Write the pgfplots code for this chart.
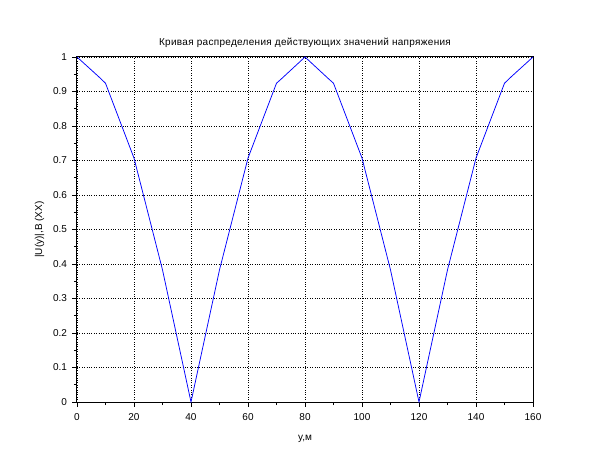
\documentclass[border=0pt]{standalone}
\usepackage{pgfplots}
\pgfplotsset{compat=1.18}
\usepackage{fontspec}
\setmainfont{Liberation Sans}
\begin{document}
\begin{tikzpicture}
\path[use as bounding box] (-77pt,-58pt) rectangle (533pt,402pt);
\begin{axis}[
  at={(0pt,0pt)}, anchor=south west,
  scale only axis, width=456pt, height=345pt,
  xmin=0, xmax=160, ymin=0, ymax=1,
  xtick={0,20,...,160}, ytick={0,0.1,...,1},
  minor x tick num=1, minor y tick num=1,
  tick pos=left, tick align=outside,
  major tick length=4.5pt, minor tick length=3pt,
  every tick/.style={black, line width=0.6pt},
  axis line style={black, line width=1pt},
  grid=major,
  major grid style={black, dotted, line width=0.6pt},
  font=\fontsize{10}{12}\selectfont,
  /pgf/number format/assume math mode=true,
  yticklabel style={/pgf/number format/fixed, /pgf/number format/precision=1, xshift=-2pt},
  xticklabel style={yshift=-3pt},
  title={Кривая распределения действующих значений напряжения},
  title style={yshift=0pt, font=\fontsize{10}{12}\selectfont\addfontfeatures{LetterSpace=3}},
  xlabel={y,м}, ylabel={|U(y)|,B (XX)},
  xlabel style={yshift=-8pt},
  ylabel style={yshift=2pt},
]
\addplot[blue, line width=0.75pt] coordinates {
(0,1) (7.6,0.943) (10,0.924) (20,0.707) (30,0.383) (40,0)
(50,0.383) (60,0.707) (70,0.924) (71.5,0.935) (80,1) (88.5,0.935) (90,0.924)
(100,0.707) (110,0.383) (120,0) (130,0.383) (140,0.707) (150,0.924)
(152.4,0.943) (160,1)
};
\end{axis}
\end{tikzpicture}
\end{document}
